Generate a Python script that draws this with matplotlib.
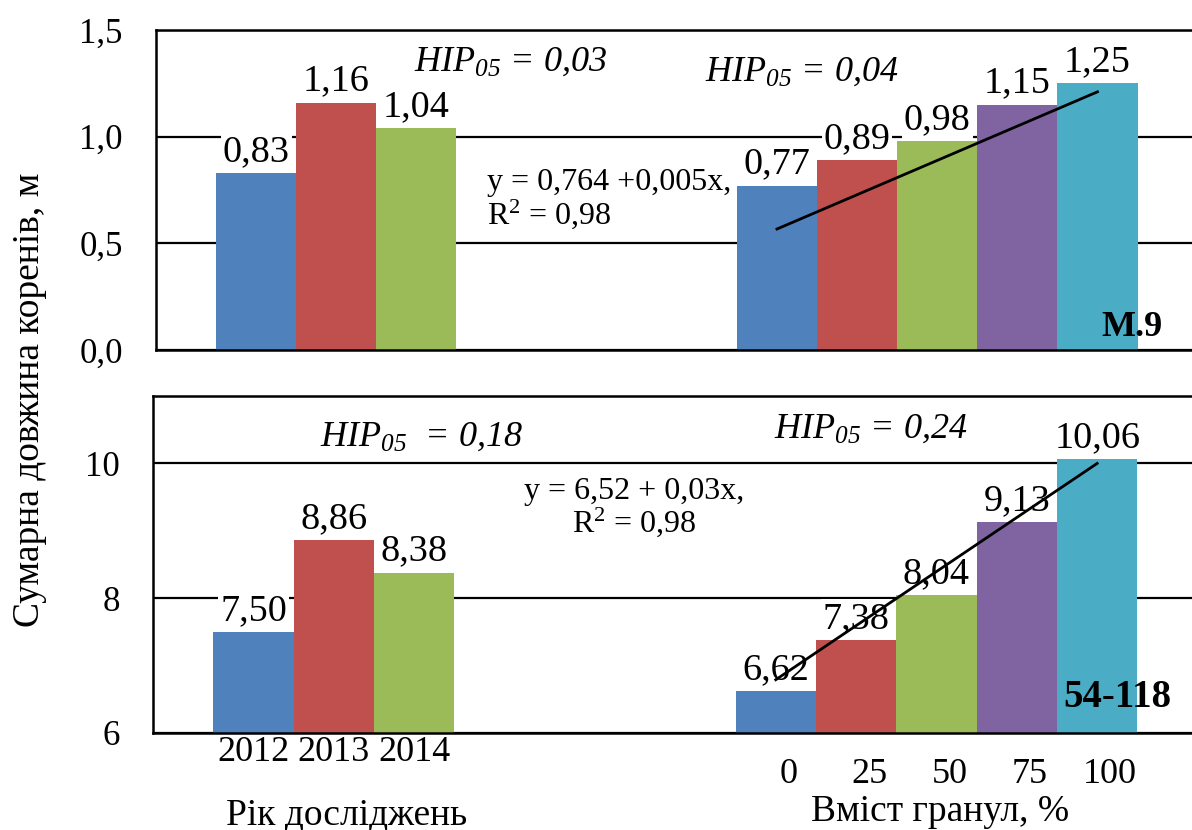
import matplotlib
matplotlib.use('Agg')
import matplotlib.pyplot as plt
import matplotlib.transforms as mtransforms

plt.rcParams['font.family'] = ['Liberation Serif', 'DejaVu Serif']
plt.rcParams['mathtext.fontset'] = 'custom'
plt.rcParams['mathtext.rm'] = 'Liberation Serif'
plt.rcParams['mathtext.it'] = 'Liberation Serif:italic'
plt.rcParams['mathtext.sf'] = 'Liberation Serif:italic'

# data
years = ['2012', '2013', '2014']
granules = ['0', '25', '50', '75', '100']
granule_pct = [0, 25, 50, 75, 100]

m9_years = [0.83, 1.16, 1.04]
m9_gran = [0.77, 0.89, 0.98, 1.15, 1.25]
r54_years = [7.50, 8.86, 8.38]
r54_gran = [6.62, 7.38, 8.04, 9.13, 10.06]

# trend lines as drawn in the source (value at 0 % and 100 %)
m9_trend = [0.567, 1.21]
r54_trend = [6.79, 10.0]

colors = ['#4F81BD', '#C0504D', '#9BBB59', '#8064A2', '#4BACC6']

left_pos = [0, 1, 2]
right_pos = [6.5 + p / 25 for p in granule_pct]

HIP = r'$\mathit{HIP}_{\mathsf{05}}$'


def fmt(v, nd=2):
    return ('{:.%df}' % nd).format(v).replace('.', ',')


def panel(ax, vals_y, vals_g, ylim, yticks, ytick_fmt):
    ax.bar(left_pos, vals_y, width=1.0, color=colors[:3], linewidth=0, zorder=2)
    ax.bar(right_pos, vals_g, width=1.0, color=colors, linewidth=0, zorder=2)
    for x, v in list(zip(left_pos, vals_y)) + list(zip(right_pos, vals_g)):
        ax.annotate(fmt(v), (x, v), xytext=(0, 3), textcoords='offset points',
                    ha='center', va='bottom', fontsize=27.5, zorder=4,
                    bbox=dict(boxstyle='square,pad=0.05', fc='white', ec='none'))
    ax.set_xlim(-1.25, 11.68)
    ax.set_ylim(*ylim)
    ax.set_yticks(yticks)
    ax.set_yticklabels([ytick_fmt(t) for t in yticks])
    ax.tick_params(axis='y', length=0, pad=24, labelsize=25)
    ax.tick_params(axis='x', length=0)
    ax.yaxis.grid(True, color='black', linewidth=1.6, zorder=0)
    ax.set_axisbelow(True)
    ax.spines['right'].set_visible(False)
    for s in ['left', 'top', 'bottom']:
        ax.spines[s].set_linewidth(1.8)


fig = plt.figure(figsize=(11.92, 8.30), dpi=100)

# top panel: M.9
ax1 = fig.add_axes([156 / 1192, 0.5783, 1 - 156 / 1192, 0.3856])
panel(ax1, m9_years, m9_gran, (0, 1.5), [0, 0.5, 1.0, 1.5], lambda t: fmt(t, 1))
ax1.set_xticks([])
ax1.plot([6.5 + granule_pct[0] / 25, 6.5 + granule_pct[-1] / 25], m9_trend,
         color='black', linewidth=2, zorder=5)
ax1.text(0.342, 0.90, HIP + ' = 0,03', transform=ax1.transAxes,
         fontsize=26, fontstyle='italic', ha='center', va='center')
ax1.text(0.623, 0.869, HIP + ' = 0,04', transform=ax1.transAxes,
         fontsize=26, fontstyle='italic', ha='center', va='center')
ax1.text(0.3195, 0.47, 'y = 0,764 +0,005x,\nR$^2$ = 0,98', transform=ax1.transAxes,
         fontsize=23, ha='left', va='center', linespacing=1.0)
ax1.text(0.942, 0.07, 'М.9', transform=ax1.transAxes, fontsize=26,
         fontweight='bold', ha='center', va='center')

# bottom panel: 54-118
ax2 = fig.add_axes([153 / 1192, 0.1169, 1 - 153 / 1192, 0.4060])
panel(ax2, r54_years, r54_gran, (6, 11), [6, 8, 10], lambda t: '%d' % t)
ax2.set_xticks(left_pos)
ax2.set_xticklabels(years, fontsize=26)
ax2.tick_params(axis='x', pad=2)
ax2.plot([6.5 + granule_pct[0] / 25, 6.5 + granule_pct[-1] / 25], r54_trend,
         color='black', linewidth=2, zorder=5)
ax2.text(0.258, 0.878, HIP + '  = 0,18', transform=ax2.transAxes,
         fontsize=26, fontstyle='italic', ha='center', va='center')
ax2.text(0.691, 0.90, HIP + ' = 0,24', transform=ax2.transAxes,
         fontsize=26, fontstyle='italic', ha='center', va='center')
ax2.text(0.463, 0.668, 'y = 6,52 + 0,03x,\nR$^2$ = 0,98', transform=ax2.transAxes,
         fontsize=23, ha='center', va='center', linespacing=1.0)
ax2.text(0.928, 0.105, '54-118', transform=ax2.transAxes, fontsize=28,
         fontweight='bold', ha='center', va='center')

trans = mtransforms.blended_transform_factory(ax2.transData, ax2.transAxes)
for x, lab in zip(right_pos, granules):
    ax2.text(x + 0.16, -0.075, lab, transform=trans, fontsize=26,
             ha='center', va='top')

fig.text(347 / 1192, 1 - 815 / 830, 'Рік досліджень', fontsize=27,
         ha='center', va='center')
fig.text(940 / 1192, 1 - 812 / 830, 'Вміст гранул, %', fontsize=27,
         ha='center', va='center')
fig.text(30 / 1192, 1 - 400 / 830, 'Сумарна довжина коренів, м', fontsize=27,
         rotation=90, ha='center', va='center')

fig.savefig('out.png', dpi=100)
